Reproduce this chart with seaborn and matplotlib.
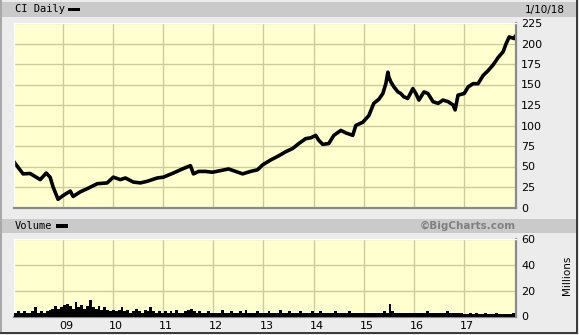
import numpy as np
import pandas as pd
import matplotlib
matplotlib.use("Agg")
import matplotlib.pyplot as plt
import matplotlib.dates as mdates
from matplotlib.patches import Rectangle
from matplotlib.transforms import ScaledTranslation
import seaborn as sns

# ---------------- data ----------------
price_dates = [
    "2008-01-10", "2008-01-17", "2008-03-16", "2008-05-06", "2008-07-19", "2008-09-01",
    "2008-09-29", "2008-10-21", "2008-11-26", "2009-01-03", "2009-02-23", "2009-03-16",
    "2009-05-06", "2009-06-27", "2009-09-08", "2009-11-19", "2010-01-03", "2010-02-23",
    "2010-04-01", "2010-05-29", "2010-07-19", "2010-09-08", "2010-11-19", "2011-01-03",
    "2011-03-16", "2011-05-21", "2011-07-19", "2011-08-10", "2011-09-16", "2011-11-05",
    "2011-12-26", "2012-02-23", "2012-04-22", "2012-06-12", "2012-08-02", "2012-09-29",
    "2012-11-19", "2012-12-26", "2013-02-23", "2013-04-22", "2013-06-12", "2013-08-02",
    "2013-09-16", "2013-11-05", "2013-12-12", "2014-01-17", "2014-02-08", "2014-03-09",
    "2014-04-22", "2014-05-29", "2014-07-19", "2014-08-24", "2014-10-14", "2014-11-05",
    "2014-12-26", "2015-02-08", "2015-03-16", "2015-04-22", "2015-05-21", "2015-06-12",
    "2015-06-27", "2015-07-04", "2015-07-19", "2015-08-10", "2015-09-08", "2015-09-29",
    "2015-10-21", "2015-11-19", "2015-12-26", "2016-01-17", "2016-02-08", "2016-03-16",
    "2016-04-14", "2016-05-21", "2016-06-27", "2016-08-02", "2016-09-08", "2016-10-14",
    "2016-10-29", "2016-11-19", "2017-01-03", "2017-02-01", "2017-03-09", "2017-04-14",
    "2017-05-21", "2017-06-27", "2017-08-02", "2017-09-08", "2017-10-14", "2017-11-05",
    "2017-11-27", "2018-01-03", "2018-01-10",
]
price_values = [
    56, 54, 41, 41.5, 34, 42,
    37, 25, 10, 14.7, 20, 13.5,
    19, 23, 29, 30, 37, 34,
    36, 31, 30, 32, 36, 37,
    42, 47, 51, 41, 44, 44,
    43, 45, 47, 44, 41, 44,
    46, 52, 58, 63, 68, 72,
    78, 84, 85, 88, 82, 77,
    78, 88, 94, 91, 88, 100,
    104, 112, 127, 132, 139, 151,
    165, 159, 153, 147, 141, 139,
    135, 133, 145, 139, 131, 141,
    139, 129, 127, 131, 129, 125,
    119, 137, 139, 147, 151, 151,
    161, 167, 174, 183, 190, 200,
    208, 206, 209,
]

volume_start = "2008-01-10"
volume_millions = [
    3, 4, 3, 4, 3, 3, 4, 7, 3, 4, 3, 4, 5, 6, 8, 6, 7, 9,
    10, 8, 6, 11, 7, 9, 6, 8, 13, 7, 6, 8, 5, 7, 5, 4, 5,
    4, 5, 7, 4, 5, 3, 4, 6, 4, 3, 5, 4, 7, 4, 3, 4, 3, 4,
    3, 4, 3, 5, 3, 3, 4, 5, 6, 4, 3, 4, 3, 3, 4, 3, 3,
    3, 3, 5, 3, 3, 4, 3, 3, 4, 3, 5, 3, 3, 3, 4, 3, 3, 3,
    4, 3, 3, 3, 5, 3, 3, 4, 3, 3, 3, 4, 3, 3, 3, 4, 3,
    3, 4, 3, 3, 3, 3, 4, 3, 3, 3, 3, 4, 3, 3, 3, 3, 3, 3,
    3, 3, 3, 3, 3, 4, 3, 10, 4, 3, 3, 3, 3, 3, 3, 3, 3,
    3, 3, 3, 4, 3, 3, 3, 3, 3, 3, 4, 3, 3, 3, 3, 3, 2,
    2, 3, 2, 3, 2, 2, 3, 2, 2, 2, 3, 2, 2, 2, 2, 2, 3,
]

year_ticks = ["2009", "2010", "2011", "2012", "2013", "2014", "2015", "2016", "2017"]
year_labels = ["09", "10", "11", "12", "13", "14", "15", "16", "17"]
price_ticks = [0, 25, 50, 75, 100, 125, 150, 175, 200, 225]
volume_ticks = [0, 20, 40, 60]

# ---------------- figure ----------------
sns.set_style("white")
plt.rcParams["font.family"] = ["DejaVu Sans"]

W, H = 579, 335
fig = plt.figure(figsize=(W / 100, H / 100), dpi=100)
BG = "#ECECEC"
BAND = "#CACACA"
PLOT = "#FFFFD0"
GRID = "#CCCC99"
fig.patch.set_facecolor(BG)


def px_rect(x0, y0, x1, y1, color, z=0):
    # pixel coords with origin top-left
    fig.add_artist(Rectangle((x0 / W, 1 - y1 / H), (x1 - x0) / W, (y1 - y0) / H,
                             transform=fig.transFigure, facecolor=color,
                             edgecolor="none", zorder=z))


# bands and borders
px_rect(2, 2, 576, 16.5, BAND)
px_rect(2, 218.5, 576, 233, BAND)
px_rect(0, 0, 2, 333, "#A8A8A8", 5)
px_rect(576, 0, 578, 333, "#3C3C3C", 5)
px_rect(0, 331.5, 578, 333.5, "#3C3C3C", 5)

ax1 = fig.add_axes([14 / W, 1 - 207.5 / H, 501.5 / W, 184.5 / H])
ax2 = fig.add_axes([14 / W, 1 - 316.5 / H, 501.5 / W, 77.5 / H])

df = pd.DataFrame({"date": pd.to_datetime(price_dates), "price": price_values})
vol_dates = pd.date_range(volume_start, periods=len(volume_millions), freq="21D")

xmin = pd.Timestamp("2008-01-10")
xmax = pd.Timestamp("2018-01-12")

for ax in (ax1, ax2):
    ax.set_facecolor(PLOT)
    ax.set_xlim(xmin, xmax)
    ax.set_xticks(pd.to_datetime(year_ticks))
    ax.grid(True, color=GRID, linewidth=1.0)
    ax.set_axisbelow(True)
    for s in ("top", "left"):
        ax.spines[s].set_color("white")
        ax.spines[s].set_linewidth(1.0)
    for s in ("bottom", "right"):
        ax.spines[s].set_color("#8A8A8A")
        ax.spines[s].set_linewidth(1.6)
    ax.yaxis.tick_right()
    ax.tick_params(axis="both", length=0, labelsize=8, colors="black")
    ax.tick_params(axis="y", pad=4)

sns.lineplot(data=df, x="date", y="price", ax=ax1, color="black", linewidth=2.6)
ax1.set_ylim(0, 225)
ax1.set_yticks(price_ticks)
ax1.set_xlabel("")
ax1.set_ylabel("")
ax1.set_xticklabels([])

ax2.bar(vol_dates, volume_millions, width=21, color="black", align="edge", zorder=3,
        linewidth=0)
ax2.set_ylim(0, 60)
ax2.set_yticks(volume_ticks)
ax2.set_xticklabels(year_labels)
ax2.tick_params(axis="x", pad=3)
for lab in ax2.get_xticklabels():
    lab.set_transform(lab.get_transform() + ScaledTranslation(3 / 100, 0, fig.dpi_scale_trans))

# header texts
fig.text(15 / W, 1 - 9.5 / H, "CI Daily", family="DejaVu Sans Mono", fontsize=7.5,
         va="center", ha="left", color="black")
px_rect(67.5, 7.7, 79.5, 11, "black", 6)
fig.text(565 / W, 1 - 9.5 / H, "1/10/18", fontsize=7.5, va="center", ha="right", color="black")

fig.text(15 / W, 1 - 226 / H, "Volume", family="DejaVu Sans Mono", fontsize=7.5,
         va="center", ha="left", color="black")
px_rect(55.7, 224.3, 67.7, 227.5, "black", 6)
fig.text(516 / W, 1 - 225.5 / H, "\u00a9BigCharts.com", fontsize=7.5, fontweight="bold",
         va="center", ha="right", color="#808080")

fig.text(567 / W, 1 - 275 / H, "Millions", fontsize=7.5, rotation=90,
         va="center", ha="center", color="black")

fig.savefig("out.png", dpi=100, facecolor=BG)
